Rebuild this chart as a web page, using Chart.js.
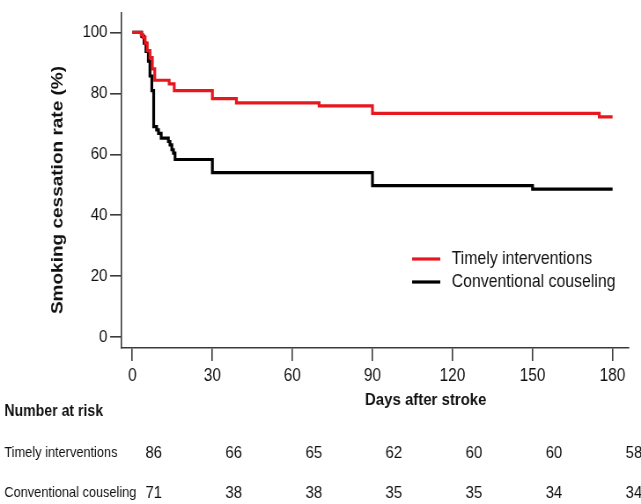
<!DOCTYPE html>
<html>
<head>
<meta charset="utf-8">
<script src="https://cdn.jsdelivr.net/npm/chart.js@4.4.1/dist/chart.umd.min.js"></script>
<style>
  html, body { margin: 0; padding: 0; background: #fff; overflow: hidden; width: 641px; height: 504px; }
  #wrap { position: absolute; left: 0; top: 0; width: 728px; height: 504px; transform: scaleX(0.8805); transform-origin: 0 0; }
  canvas { display: block; }
</style>
</head>
<body>
<div id="wrap"><canvas id="c" width="728" height="504"></canvas></div>
<script>
// ---- data ----
const seriesNames = ['Timely interventions', 'Conventional couseling'];
const timelyDays = [0, 3.3, 4.0, 4.8, 5.6, 6.6, 7.5, 8.4, 13.8, 15.7, 30, 39, 70, 90, 175, 180];
const timelyRate = [100, 99.2, 98.4, 96.5, 94, 91.7, 88, 84.3, 83.1, 80.9, 78.3, 76.9, 75.9, 73.4, 72.3, 72.3];
const convDays = [0, 3.5, 4.4, 5.1, 6.0, 6.6, 7.3, 8.0, 9.1, 9.8, 10.8, 13.5, 14.1, 14.8, 15.4, 16.0, 30, 90, 150, 180];
const convRate = [100, 98.7, 96.5, 93.8, 90.6, 85.7, 80.9, 69.1, 68.0, 66.9, 65.3, 64.2, 63.1, 61.5, 60.4, 58.3, 54.0, 49.7, 48.6, 48.6];
const xTicks = [0, 30, 60, 90, 120, 150, 180];
const yTicks = [0, 20, 40, 60, 80, 100];
const riskTimely = [86, 66, 65, 62, 60, 60, 58];
const riskConv = [71, 38, 38, 35, 35, 34, 34];
const xTitle = 'Days after stroke';
const yTitle = 'Smoking cessation rate (%)';
const riskTitle = 'Number at risk';

// ---- styling ----
const FONT = "'Liberation Sans', Arial, Helvetica, sans-serif";
const RED = '#e8161e';
const BLACK = '#000000';
const AXIS = '#3a3a3a';

Chart.defaults.font.family = FONT;
Chart.defaults.color = '#111';

const toPts = (xs, ys) => xs.map((x, i) => ({ x: x, y: ys[i] }));

const annotations = {
  id: 'annotations',
  afterDraw(chart) {
    const ctx = chart.ctx;
    const xs = chart.scales.x;
    ctx.save();
    ctx.fillStyle = '#111';
    // y axis title
    ctx.save();
    ctx.translate(65.5, 190);
    ctx.rotate(-Math.PI / 2);
    ctx.font = 'bold 19px ' + FONT;
    ctx.textAlign = 'center';
    ctx.textBaseline = 'middle';
    ctx.fillText(yTitle, 0, 0);
    ctx.restore();
    // x axis title
    ctx.font = 'bold 17px ' + FONT;
    ctx.textAlign = 'center';
    ctx.textBaseline = 'middle';
    ctx.fillText(xTitle, 483.5, 400);
    // legend
    const legendRows = [[seriesNames[0], RED, 259], [seriesNames[1], BLACK, 282]];
    legendRows.forEach(([name, col, y]) => {
      ctx.strokeStyle = col;
      ctx.lineWidth = 3.2;
      ctx.beginPath();
      ctx.moveTo(468, y);
      ctx.lineTo(500, y);
      ctx.stroke();
      ctx.font = '18px ' + FONT;
      ctx.textAlign = 'left';
      ctx.textBaseline = 'middle';
      ctx.fillText(name, 513, y);
    });
    // number at risk table
    ctx.font = 'bold 16px ' + FONT;
    ctx.textAlign = 'left';
    ctx.fillText(riskTitle, 5, 412);
    ctx.font = '14.5px ' + FONT;
    ctx.fillText(seriesNames[0], 5, 453);
    ctx.fillText(seriesNames[1], 5, 493);
    ctx.font = '17px ' + FONT;
    ctx.textAlign = 'center';
    xTicks.forEach((t, i) => {
      const px = xs.getPixelForValue(t) + 24.3;
      ctx.fillText(String(riskTimely[i]), px, 453);
      ctx.fillText(String(riskConv[i]), px, 493);
    });
    ctx.restore();
  }
};

new Chart(document.getElementById('c'), {
  type: 'line',
  data: {
    datasets: [
      { label: seriesNames[0], data: toPts(timelyDays, timelyRate), borderColor: RED, backgroundColor: RED,
        borderWidth: 3.2, pointRadius: 0, stepped: true, fill: false, borderJoinStyle: 'miter', borderCapStyle: 'butt' },
      { label: seriesNames[1], data: toPts(convDays, convRate), borderColor: BLACK, backgroundColor: BLACK,
        borderWidth: 3.2, pointRadius: 0, stepped: true, fill: false, borderJoinStyle: 'miter', borderCapStyle: 'butt' }
    ]
  },
  options: {
    responsive: false,
    devicePixelRatio: 1,
    animation: false,
    layout: { padding: { top: 8, right: 14.4, left: 0, bottom: 0 } },
    plugins: { legend: { display: false }, tooltip: { enabled: false }, title: { display: false } },
    scales: {
      x: {
        type: 'linear',
        min: -4.22,
        max: 185.9,
        afterBuildTicks: s => { s.ticks = xTicks.map(v => ({ value: v })); },
        afterFit: s => { s.height = 156; },
        grid: { drawOnChartArea: false, drawTicks: true, tickLength: 13, color: AXIS, lineWidth: 1.6 },
        border: { display: true, color: AXIS, width: 1.6 },
        ticks: { font: { size: 17.5 }, color: '#111', padding: 5, maxRotation: 0, autoSkip: false }
      },
      y: {
        type: 'linear',
        min: -3.55,
        max: 106.3,
        afterBuildTicks: s => { s.ticks = yTicks.map(v => ({ value: v })); },
        afterFit: s => { s.width = 137.5; },
        grid: { drawOnChartArea: false, drawTicks: true, tickLength: 12.5, color: AXIS, lineWidth: 1.6 },
        border: { display: true, color: AXIS, width: 1.6 },
        ticks: { font: { size: 17 }, color: '#111', padding: 3, autoSkip: false }
      }
    }
  },
  plugins: [annotations]
});
</script>
</body>
</html>
